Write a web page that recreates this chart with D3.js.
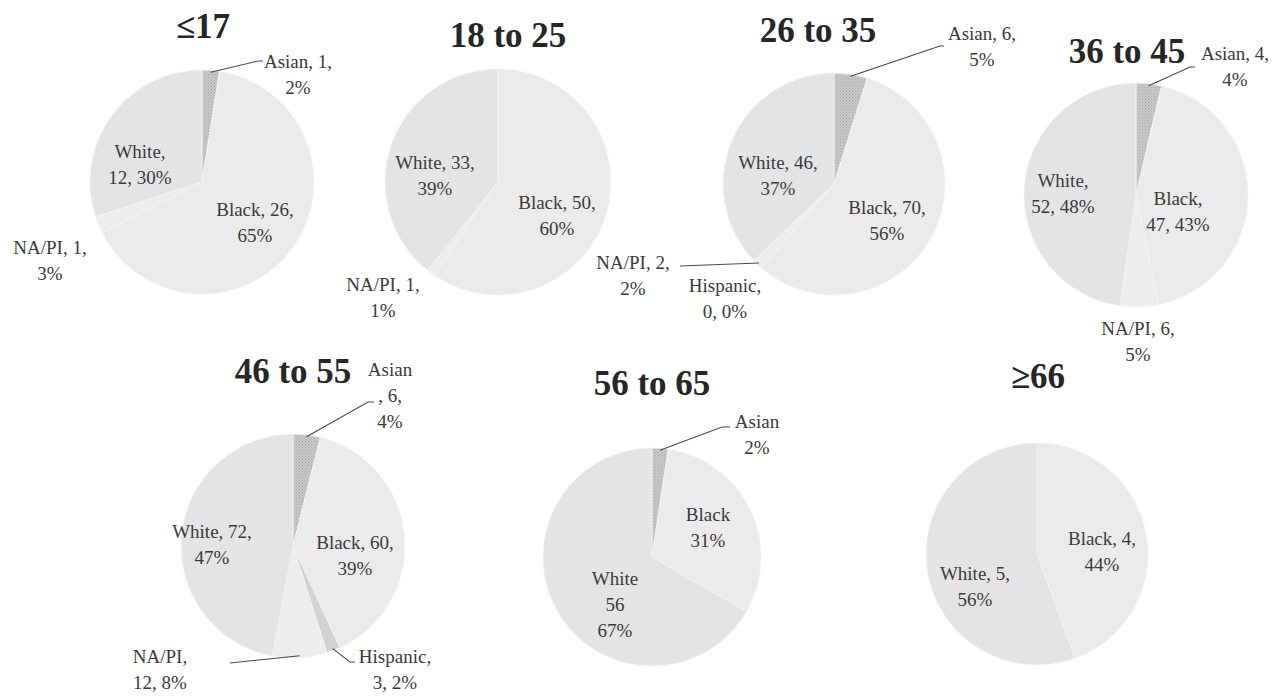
<!DOCTYPE html>
<html>
<head>
<meta charset="utf-8">
<script src="https://cdn.jsdelivr.net/npm/d3@7"></script>
<style>
  html, body { margin: 0; padding: 0; background: #ffffff; }
  svg { display: block; }
</style>
</head>
<body>
<svg id="chart" width="1283" height="696"></svg>
<script>
// ---------------- DATA ----------------
const ageGroups = ["≤17", "18 to 25", "26 to 35", "36 to 45", "46 to 55", "56 to 65", "≥66"];
const races = ["Asian", "Black", "Hispanic", "NA/PI", "White"];
const asianCounts    = [1, 0, 6, 4, 6, 2, 0];
const blackCounts    = [26, 50, 70, 47, 60, 26, 4];
const hispanicCounts = [0, 0, 0, 0, 3, 0, 0];
const naPiCounts     = [1, 1, 2, 6, 12, 0, 0];
const whiteCounts    = [12, 33, 46, 52, 72, 56, 5];

// slice label texts ("|" = line break), aligned with races; null = no label
const labelsAge17   = ["Asian, 1,|2%", "Black, 26,|65%", null, "NA/PI, 1,|3%", "White,|12, 30%"];
const labelsAge18   = [null, "Black, 50,|60%", null, "NA/PI, 1,|1%", "White, 33,|39%"];
const labelsAge26   = ["Asian, 6,|5%", "Black, 70,|56%", "Hispanic,|0, 0%", "NA/PI, 2,|2%", "White, 46,|37%"];
const labelsAge36   = ["Asian, 4,|4%", "Black,|47, 43%", null, "NA/PI, 6,|5%", "White,|52, 48%"];
const labelsAge46   = ["Asian|, 6,|4%", "Black, 60,|39%", "Hispanic,|3, 2%", "NA/PI,|12, 8%", "White, 72,|47%"];
const labelsAge56   = ["Asian|2%", "Black|31%", null, null, "White|56|67%"];
const labelsAge66   = [null, "Black, 4,|44%", null, null, "White, 5,|56%"];
const labelSets = [labelsAge17, labelsAge18, labelsAge26, labelsAge36, labelsAge46, labelsAge56, labelsAge66];

// ---------------- LAYOUT (positions / styles only) ----------------
const raceColors = ["url(#hatch)", "#ebebeb", "#d2d2d2", "#eeeeee", "#e4e4e4"];
const pies = [
  { cx: 202,  cy: 182, r: 112, title: [203, 38] },
  { cx: 498,  cy: 182, r: 113, title: [508, 47] },
  { cx: 834,  cy: 184, r: 111, title: [818, 42] },
  { cx: 1136, cy: 195, r: 112, title: [1127, 63] },
  { cx: 293,  cy: 546, r: 112, title: [293, 383] },
  { cx: 652,  cy: 557, r: 109, title: [652, 395] },
  { cx: 1037, cy: 554, r: 111, title: [1038, 388] }
];
// label anchor (center x, first baseline) and optional leader end points, per pie per race
const labelPos = [
  { "Asian": {x: 298, y: 68, lead: [[258, 61], [263, 61]]}, "Black": {x: 255, y: 216}, "NA/PI": {x: 50, y: 254}, "White": {x: 140, y: 158} },
  { "Black": {x: 557, y: 209}, "NA/PI": {x: 383, y: 291}, "White": {x: 435, y: 169} },
  { "Asian": {x: 982, y: 40, lead: [[940, 46], [944, 46]]}, "Black": {x: 887, y: 214}, "Hispanic": {x: 725, y: 292},
    "NA/PI": {x: 633, y: 269, lead: [[680, 266]]}, "White": {x: 778, y: 169} },
  { "Asian": {x: 1235, y: 60, lead: [[1190, 67], [1195, 67]]}, "Black": {x: 1178, y: 205}, "NA/PI": {x: 1138, y: 335}, "White": {x: 1063, y: 187} },
  { "Asian": {x: 390, y: 376, lead: [[368, 402], [374, 402]]}, "Black": {x: 355, y: 549}, "Hispanic": {x: 395, y: 663, lead: [[350, 662], [355, 662]]},
    "NA/PI": {x: 160, y: 663, lead: [[230, 663]]}, "White": {x: 212, y: 538} },
  { "Asian": {x: 757, y: 428, lead: [[722, 427], [730, 427]]}, "Black": {x: 708, y: 521}, "White": {x: 615, y: 585} },
  { "Black": {x: 1102, y: 545}, "White": {x: 975, y: 580} }
];
const lineHeight = 26;

// ---------------- DRAW ----------------
const svg = d3.select("#chart");
const defs = svg.append("defs");
const pat = defs.append("pattern").attr("id", "hatch").attr("patternUnits", "userSpaceOnUse")
  .attr("width", 3).attr("height", 3);
pat.append("rect").attr("width", 3).attr("height", 3).attr("fill", "#c8c8c8");
pat.append("rect").attr("width", 1).attr("height", 1).attr("fill", "#a8a8a8");
pat.append("rect").attr("x", 1.5).attr("y", 1.5).attr("width", 1).attr("height", 1).attr("fill", "#b3b3b3");

const series = [asianCounts, blackCounts, hispanicCounts, naPiCounts, whiteCounts];
const color = d3.scaleOrdinal().domain(races).range(raceColors);
const pieGen = d3.pie().sort(null).value(d => d.value);

ageGroups.forEach((group, gi) => {
  const P = pies[gi];
  const data = races.map((race, ri) => ({ race, value: series[ri][gi], label: labelSets[gi][ri] }));
  const arcs = pieGen(data);
  const arc = d3.arc().innerRadius(0).outerRadius(P.r);
  const g = svg.append("g").attr("transform", `translate(${P.cx},${P.cy})`);

  g.selectAll("path.slice").data(arcs.filter(a => a.data.value > 0)).join("path")
    .attr("class", "slice")
    .attr("d", arc)
    .attr("fill", d => color(d.data.race))
    .attr("stroke", "#f4f4f4")
    .attr("stroke-width", 0.8);

  // title
  svg.append("text")
    .attr("x", P.title[0]).attr("y", P.title[1])
    .attr("text-anchor", "middle")
    .attr("font-family", "'Liberation Serif', 'DejaVu Serif', serif")
    .attr("font-weight", "bold")
    .attr("font-size", 35)
    .attr("fill", "#262626")
    .text(group);

  // labels
  arcs.forEach(a => {
    if (!a.data.label) return;
    const pos = labelPos[gi][a.data.race];
    if (!pos) return;
    if (pos.lead) {
      const mid = (a.startAngle + a.endAngle) / 2;
      const start = [P.cx + Math.sin(mid) * (P.r - 2), P.cy - Math.cos(mid) * (P.r - 2)];
      const pts = [start].concat(pos.lead);
      svg.append("path")
        .attr("d", d3.line()(pts))
        .attr("fill", "none")
        .attr("stroke", "#4a4a4a")
        .attr("stroke-width", 1.1);
    }
    const t = svg.append("text")
      .attr("x", pos.x).attr("y", pos.y)
      .attr("text-anchor", "middle")
      .attr("font-family", "'Liberation Serif', 'DejaVu Serif', serif")
      .attr("font-size", 19)
      .attr("fill", "#3a3a3a");
    a.data.label.split("|").forEach((line, li) => {
      t.append("tspan").attr("x", pos.x).attr("dy", li === 0 ? 0 : lineHeight).text(line);
    });
  });
});
</script>
</body>
</html>
